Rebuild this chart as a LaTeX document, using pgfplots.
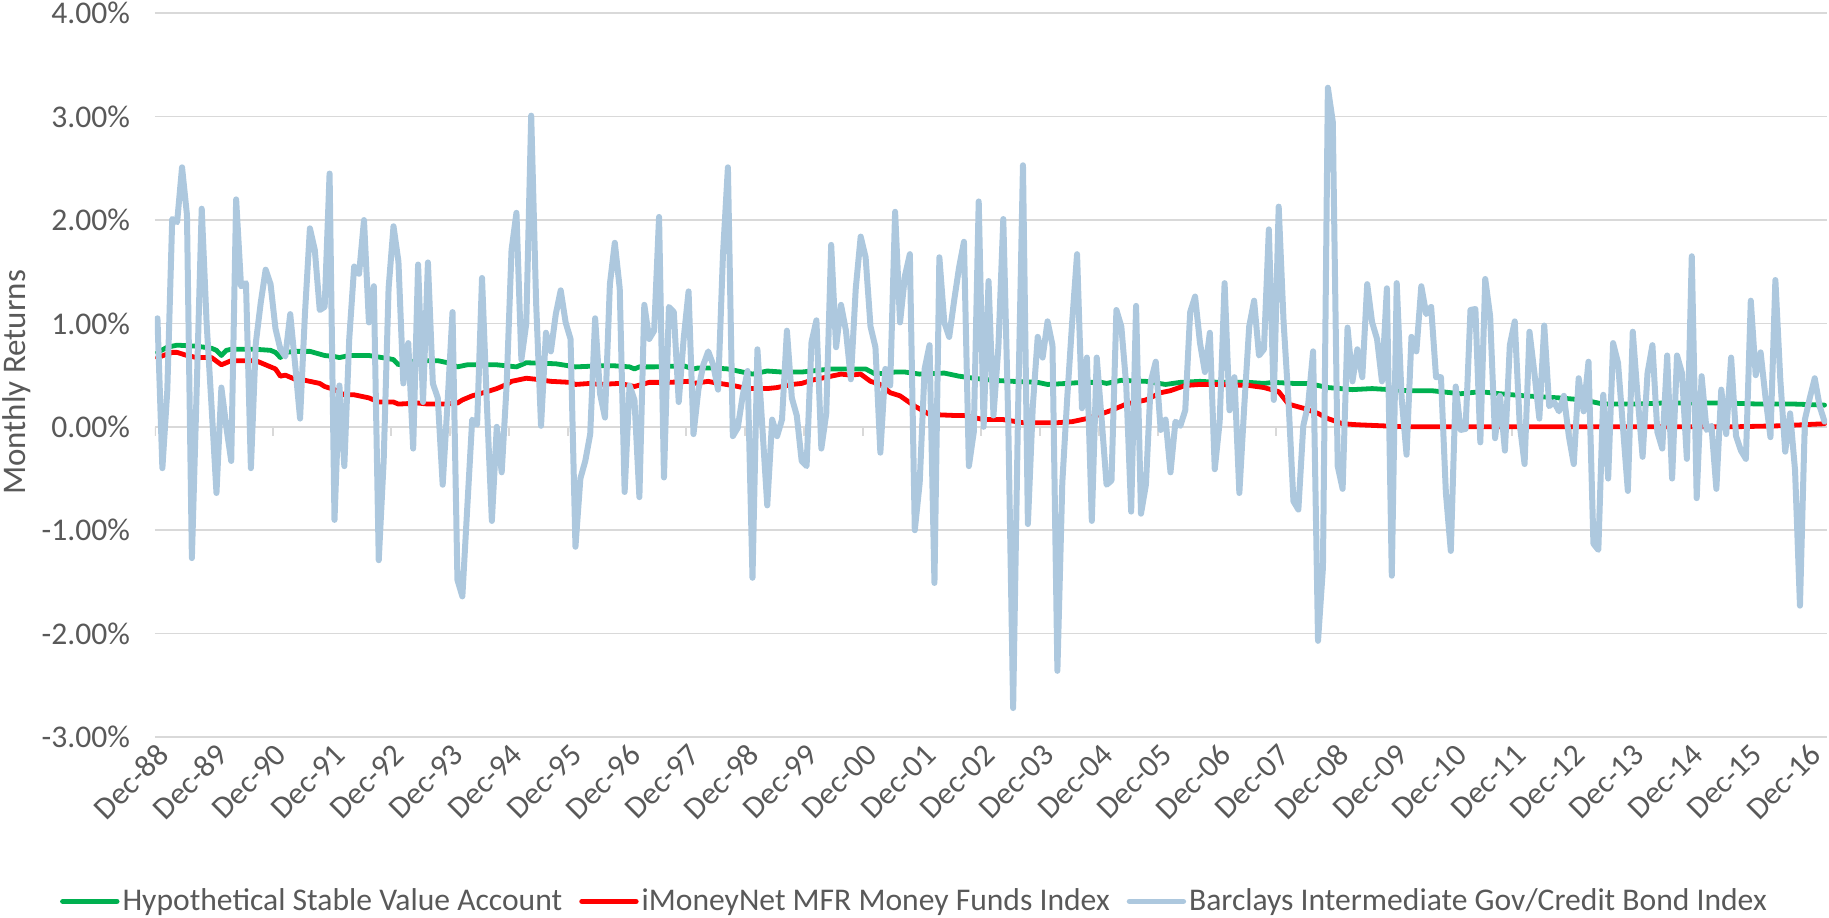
\documentclass[border=0pt]{standalone}
\usepackage{pgfplots}
\pgfplotsset{compat=1.18}
\usepackage{fontspec}
\setmainfont{Carlito}
\definecolor{txt}{HTML}{595959}
\definecolor{gridc}{HTML}{D9D9D9}
\definecolor{sv}{HTML}{00B050}
\definecolor{mm}{HTML}{FF0000}
\definecolor{bond}{HTML}{ADC8DE}
\begin{document}
\begin{tikzpicture}[font=\fontsize{15.8}{19}\selectfont]
\begin{axis}[
  name=ax,
  scale only axis, width=836pt, height=361.85pt,
  xmin=-0.5, xmax=339.5, ymin=-3, ymax=4,
  axis line style={draw=none},
  major tick length=0pt,
  ytick={-3,-2,-1,0,1,2,3,4},
  yticklabels={-3.00\%,-2.00\%,-1.00\%,0.00\%,1.00\%,2.00\%,3.00\%,4.00\%},
  yticklabel style={text=txt, xshift=-9pt},
  ymajorgrids, grid style={gridc, line width=0.8pt},
  xtick={0,12,...,336},
  xticklabels={Dec-88,Dec-89,Dec-90,Dec-91,Dec-92,Dec-93,Dec-94,Dec-95,Dec-96,Dec-97,Dec-98,Dec-99,Dec-00,Dec-01,Dec-02,Dec-03,Dec-04,Dec-05,Dec-06,Dec-07,Dec-08,Dec-09,Dec-10,Dec-11,Dec-12,Dec-13,Dec-14,Dec-15,Dec-16},
  xticklabel style={rotate=45, anchor=east, text=txt, yshift=-6.5pt, xshift=1pt},
  ylabel={Monthly Returns},
  ylabel style={at={(axis description cs:-0.0829,0.49)}, anchor=center, text=txt, font=\fontsize{16.5}{20}\selectfont},
  legend style={at={(0.4545,-0.2272)}, anchor=center, draw=none, fill=none, legend columns=3, text=txt,
    /tikz/every even column/.append style={column sep=7pt}, nodes={inner sep=1.5pt}},
  legend image code/.code={\draw[#1, line width=2.7pt] (0pt,0pt) -- (27pt,0pt);},
  every axis plot/.append style={line join=round, line cap=round},
]
\pgfplotsinvokeforeach{0,...,28}{\draw[gridc, line width=0.8pt] (axis cs:{12*#1-0.5},0) -- ++(0pt,-4.5pt);}
\addplot[sv, line width=2.4pt] coordinates {
(0,0.72)(2,0.77)(4,0.79)(8,0.78)(11,0.76)(12,0.74)(13,0.69)(14,0.74)(15,0.75)(20,0.75)(23,0.74)(24,0.72)(25,0.67)(26,0.72)(28,0.73)(31,0.73)(34,0.69)(36,0.68)(37,0.67)(39,0.69)(43,0.69)(47,0.66)(48,0.65)(49,0.60)(50,0.62)(53,0.64)(57,0.64)(59,0.62)(61,0.58)(63,0.60)(69,0.60)(73,0.58)(75,0.62)(81,0.61)(85,0.58)(90,0.59)(93,0.59)(96,0.58)(97,0.56)(98,0.58)(101,0.58)(107,0.59)(109,0.56)(110,0.57)(113,0.57)(116,0.56)(118,0.54)(121,0.51)(124,0.54)(127,0.53)(131,0.53)(133,0.54)(137,0.56)(141,0.56)(144,0.56)(146,0.51)(150,0.53)(152,0.53)(155,0.51)(160,0.52)(163,0.49)(166,0.47)(170,0.45)(174,0.44)(179,0.43)(181,0.41)(185,0.42)(188,0.43)(192,0.43)(193,0.42)(196,0.45)(201,0.44)(205,0.41)(208,0.43)(212,0.44)(216,0.43)(222,0.43)(225,0.42)(227,0.43)(231,0.42)(234,0.42)(238,0.38)(243,0.36)(247,0.37)(254,0.35)(259,0.35)(263,0.33)(265,0.32)(269,0.34)(273,0.32)(278,0.30)(285,0.28)(290,0.26)(294,0.22)(300,0.22)(306,0.23)(319,0.23)(326,0.22)(333,0.22)(339,0.21)};
\addlegendentry{Hypothetical Stable Value Account}
\addplot[mm, line width=2.4pt] coordinates {
(0,0.67)(3,0.72)(4,0.72)(6,0.69)(8,0.67)(11,0.67)(13,0.60)(15,0.64)(18,0.64)(20,0.64)(22,0.60)(24,0.56)(25,0.49)(26,0.50)(28,0.46)(30,0.45)(33,0.42)(34,0.39)(36,0.36)(38,0.31)(40,0.31)(43,0.28)(45,0.24)(48,0.24)(49,0.22)(53,0.23)(55,0.22)(58,0.22)(61,0.23)(62,0.26)(64,0.30)(67,0.34)(69,0.37)(71,0.41)(72,0.44)(75,0.47)(77,0.46)(80,0.44)(84,0.43)(85,0.41)(88,0.42)(90,0.41)(94,0.42)(97,0.39)(100,0.43)(104,0.43)(108,0.44)(109,0.42)(112,0.44)(113,0.43)(117,0.40)(120,0.37)(124,0.37)(126,0.38)(129,0.41)(131,0.42)(133,0.45)(136,0.48)(139,0.51)(141,0.50)(143,0.51)(145,0.44)(147,0.41)(149,0.33)(151,0.30)(154,0.20)(157,0.12)(162,0.11)(164,0.11)(168,0.07)(172,0.07)(176,0.04)(183,0.04)(186,0.05)(189,0.08)(191,0.11)(194,0.16)(197,0.22)(201,0.26)(204,0.33)(206,0.35)(209,0.40)(212,0.41)(216,0.41)(222,0.40)(225,0.38)(228,0.34)(230,0.22)(233,0.18)(236,0.13)(238,0.08)(241,0.03)(244,0.02)(249,0.01)(254,0.00)(320,0.00)(330,0.01)(339,0.03)};
\addlegendentry{iMoneyNet MFR Money Funds Index}
\addplot[bond, line width=3pt] table[row sep=\\, x expr=\coordindex, y=v] {
v\\
1.05\\-0.40\\0.35\\2.01\\1.98\\2.51\\2.05\\-1.27\\0.40\\2.11\\
1.00\\0.20\\-0.64\\0.38\\0.00\\-0.33\\2.20\\1.36\\1.39\\-0.40\\
0.81\\1.20\\1.52\\1.38\\0.95\\0.75\\0.68\\1.09\\0.60\\0.08\\
1.10\\1.92\\1.71\\1.13\\1.16\\2.45\\-0.90\\0.40\\-0.38\\0.85\\
1.55\\1.48\\2.00\\1.01\\1.36\\-1.29\\-0.33\\1.34\\1.94\\1.60\\
0.42\\0.81\\-0.21\\1.57\\0.24\\1.59\\0.42\\0.28\\-0.56\\0.24\\
1.11\\-1.48\\-1.64\\-0.78\\0.07\\0.02\\1.44\\0.20\\-0.91\\0.00\\
-0.44\\0.40\\1.71\\2.07\\0.65\\1.00\\3.01\\1.20\\0.01\\0.91\\
0.73\\1.09\\1.32\\1.01\\0.85\\-1.16\\-0.50\\-0.33\\-0.07\\1.05\\
0.32\\0.09\\1.38\\1.78\\1.34\\-0.63\\0.40\\0.26\\-0.68\\1.18\\
0.85\\0.93\\2.03\\-0.49\\1.16\\1.11\\0.24\\0.85\\1.31\\-0.07\\
0.36\\0.60\\0.73\\0.60\\0.36\\1.67\\2.51\\-0.09\\-0.01\\0.30\\
0.54\\-1.46\\0.75\\0.00\\-0.76\\0.07\\-0.09\\0.07\\0.93\\0.28\\
0.11\\-0.33\\-0.38\\0.82\\1.03\\-0.21\\0.13\\1.76\\0.77\\1.18\\
0.93\\0.46\\1.34\\1.84\\1.64\\0.97\\0.77\\-0.25\\0.56\\0.40\\
2.08\\1.01\\1.46\\1.67\\-1.00\\-0.54\\0.56\\0.79\\-1.51\\1.64\\
1.01\\0.87\\1.22\\1.54\\1.79\\-0.38\\-0.05\\2.18\\0.00\\1.41\\
0.11\\0.77\\2.01\\0.07\\-2.72\\0.15\\2.53\\-0.94\\0.20\\0.87\\
0.67\\1.02\\0.79\\-2.36\\-0.54\\0.28\\1.01\\1.67\\0.18\\0.67\\
-0.91\\0.67\\0.07\\-0.56\\-0.52\\1.13\\0.97\\0.40\\-0.82\\1.17\\
-0.84\\-0.56\\0.44\\0.63\\-0.03\\0.07\\-0.44\\0.05\\0.01\\0.16\\
1.11\\1.26\\0.81\\0.53\\0.91\\-0.41\\0.05\\1.39\\0.16\\0.48\\
-0.64\\0.20\\0.97\\1.22\\0.69\\0.75\\1.91\\0.26\\2.13\\1.01\\
0.24\\-0.72\\-0.80\\0.01\\0.22\\0.73\\-2.07\\-1.36\\3.28\\2.95\\
-0.38\\-0.60\\0.96\\0.44\\0.75\\0.48\\1.38\\1.01\\0.85\\0.44\\
1.34\\-1.44\\1.39\\0.28\\-0.27\\0.87\\0.73\\1.36\\1.09\\1.16\\
0.48\\0.48\\-0.64\\-1.20\\0.39\\-0.03\\-0.02\\1.13\\1.14\\-0.15\\
1.43\\1.07\\-0.11\\0.30\\-0.23\\0.79\\1.02\\0.03\\-0.36\\0.92\\
0.52\\0.08\\0.98\\0.20\\0.24\\0.15\\0.30\\-0.09\\-0.36\\0.47\\
0.15\\0.63\\-1.13\\-1.19\\0.31\\-0.50\\0.81\\0.62\\0.00\\-0.62\\
0.92\\0.28\\-0.29\\0.52\\0.79\\-0.05\\-0.21\\0.69\\-0.50\\0.69\\
0.52\\-0.31\\1.65\\-0.69\\0.49\\-0.03\\0.01\\-0.60\\0.36\\-0.07\\
0.67\\-0.09\\-0.23\\-0.31\\1.22\\0.50\\0.72\\0.28\\-0.10\\1.42\\
0.46\\-0.24\\0.13\\-0.42\\-1.73\\0.07\\0.28\\0.47\\0.20\\0.05\\
};
\addlegendentry{Barclays Intermediate Gov/Credit Bond Index}
\end{axis}
\pgfresetboundingbox
\path[use as bounding box] ([shift={(-77.5pt,-90.35pt)}]ax.south west) rectangle ([shift={(1pt,6.65pt)}]ax.north east);
\end{tikzpicture}
\end{document}
